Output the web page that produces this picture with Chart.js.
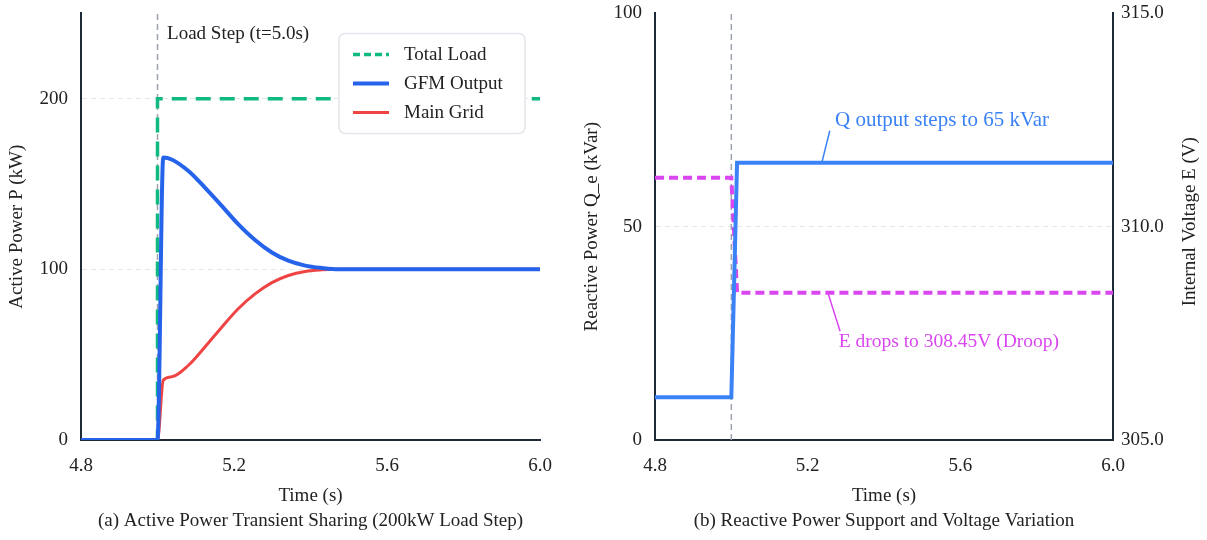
<!DOCTYPE html>
<html>
<head>
<meta charset="utf-8">
<script src="https://cdn.jsdelivr.net/npm/chart.js@4.4.1/dist/chart.umd.min.js"></script>
<style>
  html, body { margin: 0; padding: 0; background: #fff; overflow: hidden; }
  #wrap { position: relative; width: 1207px; height: 540px; overflow: hidden; }
  .panel { position: absolute; top: -11px; height: 551px; }
  #panelA { left: 0; width: 570px; }
  #panelB { left: 570px; width: 637px; }
</style>
</head>
<body>
<div id="wrap">
  <div class="panel" id="panelA"><canvas id="chartA"></canvas></div>
  <div class="panel" id="panelB"><canvas id="chartB"></canvas></div>
</div>
<script>
// ---------- data: (a) active power sharing ----------
const timeA     = [4.8, 5.0, 5.015, 5.037, 5.081, 5.124, 5.168, 5.211, 5.255, 5.299, 5.342, 5.386, 5.429, 5.473, 5.55, 6.0];
const gfmOutput = [0,   0,   165.5, 164.4, 157.6, 147.9, 137.2, 126.5, 117.2, 109.9, 105.1, 102.2, 100.8, 100, 100, 100];
const mainGrid  = [0,   0,   35,    37,    43.8,  54.5,  66.1,  76.9,  85.6,  92.2,  96.4,  98.8,  99.7,  100, 100, 100];
const loadTime  = [4.8, 5.0, 5.0, 6.0];
const totalLoad = [0, 0, 200, 200];
const loadStepTime = 5.0;

// ---------- data: (b) reactive power / voltage ----------
const timeB     = [4.8, 5.0, 5.015, 6.0];
const reactiveQ = [10, 10, 65, 65];
const voltageE  = [311.15, 311.15, 308.45, 308.45];

// ---------- tick labels ----------
const timeTicks     = [4.8, 5.2, 5.6, 6.0];
const powerTicks    = [0, 100, 200];
const reactiveTicks = [0, 50, 100];
const voltageTicks  = [305, 310, 315];

const FONT = '"Liberation Serif", "Times New Roman", serif';
const INK = "#222222";
const AXIS = "#1f2937";
const GRID = "#e5e7eb";

Chart.defaults.font.family = FONT;
Chart.defaults.font.size = 19;
Chart.defaults.color = INK;

function pts(xs, ys) {
    return xs.map((x, i) => ({ x: x, y: ys[i] }));
}

function fixedTicks(values) {
    return function (axis) {
        axis.ticks = values.map((v) => ({ value: v }));
    };
}

// text notes with optional pointer line, placed in data coordinates
const notesPlugin = {
    id: "notes",
    afterDatasetsDraw(chart, args, opts) {
        const ctx = chart.ctx;
        const xs = chart.scales.x;
        (opts.items || []).forEach((n) => {
            const ys = chart.scales[n.axis || "y"];
            ctx.save();
            ctx.fillStyle = n.color;
            ctx.strokeStyle = n.color;
            ctx.font = (n.size || 19) + "px " + FONT;
            if (n.arrow) {
                ctx.lineWidth = 1.5;
                ctx.beginPath();
                ctx.moveTo(xs.getPixelForValue(n.arrow[0]), ys.getPixelForValue(n.arrow[1]));
                ctx.lineTo(xs.getPixelForValue(n.arrow[2]), ys.getPixelForValue(n.arrow[3]));
                ctx.stroke();
            }
            ctx.textAlign = n.align || "center";
            ctx.textBaseline = "middle";
            ctx.fillText(n.text, xs.getPixelForValue(n.x), ys.getPixelForValue(n.y));
            ctx.restore();
        });
    }
};

// legend drawn inside the plot (upper right)
const insideLegend = {
    id: "insideLegend",
    afterDatasetsDraw(chart) {
        const ctx = chart.ctx;
        const area = chart.chartArea;
        const items = chart.data.datasets.filter((d) => d.inLegend);
        const w = 186, h = 100;
        const x0 = area.right - 15 - w, y0 = area.top + 20;
        ctx.save();
        ctx.beginPath();
        ctx.roundRect(x0, y0, w, h, 6);
        ctx.fillStyle = "#ffffff";
        ctx.fill();
        ctx.strokeStyle = "#e2e5ea";
        ctx.lineWidth = 1.5;
        ctx.stroke();
        items.forEach((d, i) => {
            const y = y0 + 21 + i * 29;
            ctx.beginPath();
            ctx.setLineDash(d.borderDash && d.borderDash.length ? [7, 4] : []);
            ctx.strokeStyle = d.borderColor;
            ctx.lineWidth = d.borderWidth;
            ctx.moveTo(x0 + 14, y);
            ctx.lineTo(x0 + 50, y);
            ctx.stroke();
            ctx.setLineDash([]);
            ctx.fillStyle = INK;
            ctx.font = "19px " + FONT;
            ctx.textBaseline = "middle";
            ctx.textAlign = "left";
            ctx.fillText(d.label, x0 + 65, y + 1);
        });
        ctx.restore();
    }
};

// caption under the x axis, centred on the plot area
const captionPlugin = {
    id: "caption",
    afterDraw(chart, args, opts) {
        const ctx = chart.ctx;
        const area = chart.chartArea;
        ctx.save();
        ctx.fillStyle = INK;
        ctx.font = "19px " + FONT;
        ctx.textAlign = "center";
        ctx.textBaseline = "middle";
        ctx.fillText(opts.text, (area.left + area.right) / 2 + (opts.shift || 0), chart.height - 19);
        ctx.restore();
    }
};

// right-hand axis title reading bottom-to-top
const rightTitle = {
    id: "rightTitle",
    afterDraw(chart, args, opts) {
        const ctx = chart.ctx;
        const area = chart.chartArea;
        ctx.save();
        ctx.translate(chart.width - 17, (area.top + area.bottom) / 2 - 5);
        ctx.rotate(-Math.PI / 2);
        ctx.fillStyle = INK;
        ctx.font = "19px " + FONT;
        ctx.textAlign = "center";
        ctx.textBaseline = "middle";
        ctx.fillText(opts.text, 0, 0);
        ctx.restore();
    }
};

function xAxis() {
    return {
        type: "linear",
        min: 4.8,
        max: 6.0,
        afterBuildTicks: fixedTicks(timeTicks),
        afterFit: (s) => { s.height = 69; },
        grid: { display: false, drawTicks: false },
        border: { display: true, color: AXIS, width: 2 },
        ticks: { padding: 15, callback: (v) => Number(v).toFixed(1) },
        title: { display: true, text: "Time (s)", padding: { top: 4, bottom: 2 } }
    };
}

// hide the grid line that would sit on the top edge
function gridColor(topValue) {
    return (c) => (c.tick && c.tick.value === topValue ? "rgba(0,0,0,0)" : GRID);
}

// ---------- chart (a) ----------
new Chart(document.getElementById("chartA"), {
    type: "line",
    data: {
        datasets: [
            {
                label: "Total Load",
                inLegend: true,
                data: pts(loadTime, totalLoad),
                borderColor: "#10b981",
                borderWidth: 3.5,
                borderDash: [15, 9],
                tension: 0,
                order: 3
            },
            {
                label: "GFM Output",
                inLegend: true,
                data: pts(timeA, gfmOutput),
                borderColor: "#2563eb",
                borderWidth: 4,
                cubicInterpolationMode: "monotone",
                order: 1
            },
            {
                label: "Main Grid",
                inLegend: true,
                data: pts(timeA, mainGrid),
                borderColor: "#ef4444",
                borderWidth: 3,
                cubicInterpolationMode: "monotone",
                order: 2
            },
            {
                label: "step",
                data: pts([loadStepTime, loadStepTime], [0, 250]),
                borderColor: "#9ca3af",
                borderWidth: 1.5,
                borderDash: [6, 4],
                order: 4
            }
        ]
    },
    options: {
        responsive: true,
        maintainAspectRatio: false,
        animation: false,
        layout: { padding: { top: 1, right: 30, left: 0, bottom: 31 } },
        elements: { point: { radius: 0 } },
        plugins: {
            legend: { display: false },
            tooltip: { enabled: false },
            caption: { text: "(a) Active Power Transient Sharing (200kW Load Step)" },
            notes: {
                items: [
                    { text: "Load Step (t=5.0s)", x: loadStepTime + 0.025, y: 238, align: "left", color: INK }
                ]
            }
        },
        scales: {
            x: xAxis(),
            y: {
                min: 0,
                max: 250,
                afterBuildTicks: fixedTicks(powerTicks),
                afterFit: (s) => { s.width = 81; },
                grid: { color: GRID, drawTicks: false, lineWidth: 1 },
                border: { display: true, color: AXIS, width: 2, dash: [5, 4] },
                ticks: { padding: 13 },
                title: { display: true, text: "Active Power P (kW)", padding: { top: 6, bottom: 4 } }
            }
        }
    },
    plugins: [notesPlugin, insideLegend, captionPlugin]
});

// ---------- chart (b) ----------
new Chart(document.getElementById("chartB"), {
    type: "line",
    data: {
        datasets: [
            {
                label: "Q",
                data: pts(timeB, reactiveQ),
                borderColor: "#3b82f6",
                borderWidth: 4,
                yAxisID: "y",
                order: 1
            },
            {
                label: "E",
                data: pts(timeB, voltageE),
                borderColor: "#d946ef",
                borderWidth: 4,
                borderDash: [9, 5],
                yAxisID: "y1",
                order: 2
            },
            {
                label: "step",
                data: pts([loadStepTime, loadStepTime], [0, 100]),
                borderColor: "#9ca3af",
                borderWidth: 1.5,
                borderDash: [6, 4],
                yAxisID: "y",
                order: 3
            }
        ]
    },
    options: {
        responsive: true,
        maintainAspectRatio: false,
        animation: false,
        layout: { padding: { top: 1, right: 0, left: 0, bottom: 31 } },
        elements: { point: { radius: 0 } },
        plugins: {
            legend: { display: false },
            tooltip: { enabled: false },
            caption: { text: "(b) Reactive Power Support and Voltage Variation" },
            rightTitle: { text: "Internal Voltage E (V)" },
            notes: {
                items: [
                    { text: "Q output steps to 65 kVar", x: 5.552, y: 74.8, axis: "y", color: "#3b82f6", size: 21,
                      arrow: [5.237, 65, 5.258, 72.5] },
                    { text: "E drops to 308.45V (Droop)", x: 5.57, y: 307.29, axis: "y1", color: "#d946ef", size: 19.5,
                      arrow: [5.253, 308.45, 5.285, 307.55] }
                ]
            }
        },
        scales: {
            x: xAxis(),
            y: {
                position: "left",
                min: 0,
                max: 100,
                afterBuildTicks: fixedTicks(reactiveTicks),
                afterFit: (s) => { s.width = 85; },
                grid: { color: gridColor(100), drawTicks: false },
                border: { display: true, color: AXIS, width: 2, dash: [5, 4] },
                ticks: { padding: 13 },
                title: { display: true, text: "Reactive Power Q_e (kVar)", padding: { top: 11, bottom: 4 } }
            },
            y1: {
                position: "right",
                min: 305,
                max: 315,
                afterBuildTicks: fixedTicks(voltageTicks),
                afterFit: (s) => { s.width = 94; },
                grid: { display: false, drawTicks: false },
                border: { display: true, color: AXIS, width: 2 },
                ticks: { padding: 8, callback: (v) => Number(v).toFixed(1) }
            }
        }
    },
    plugins: [notesPlugin, rightTitle, captionPlugin]
});
</script>
</body>
</html>
